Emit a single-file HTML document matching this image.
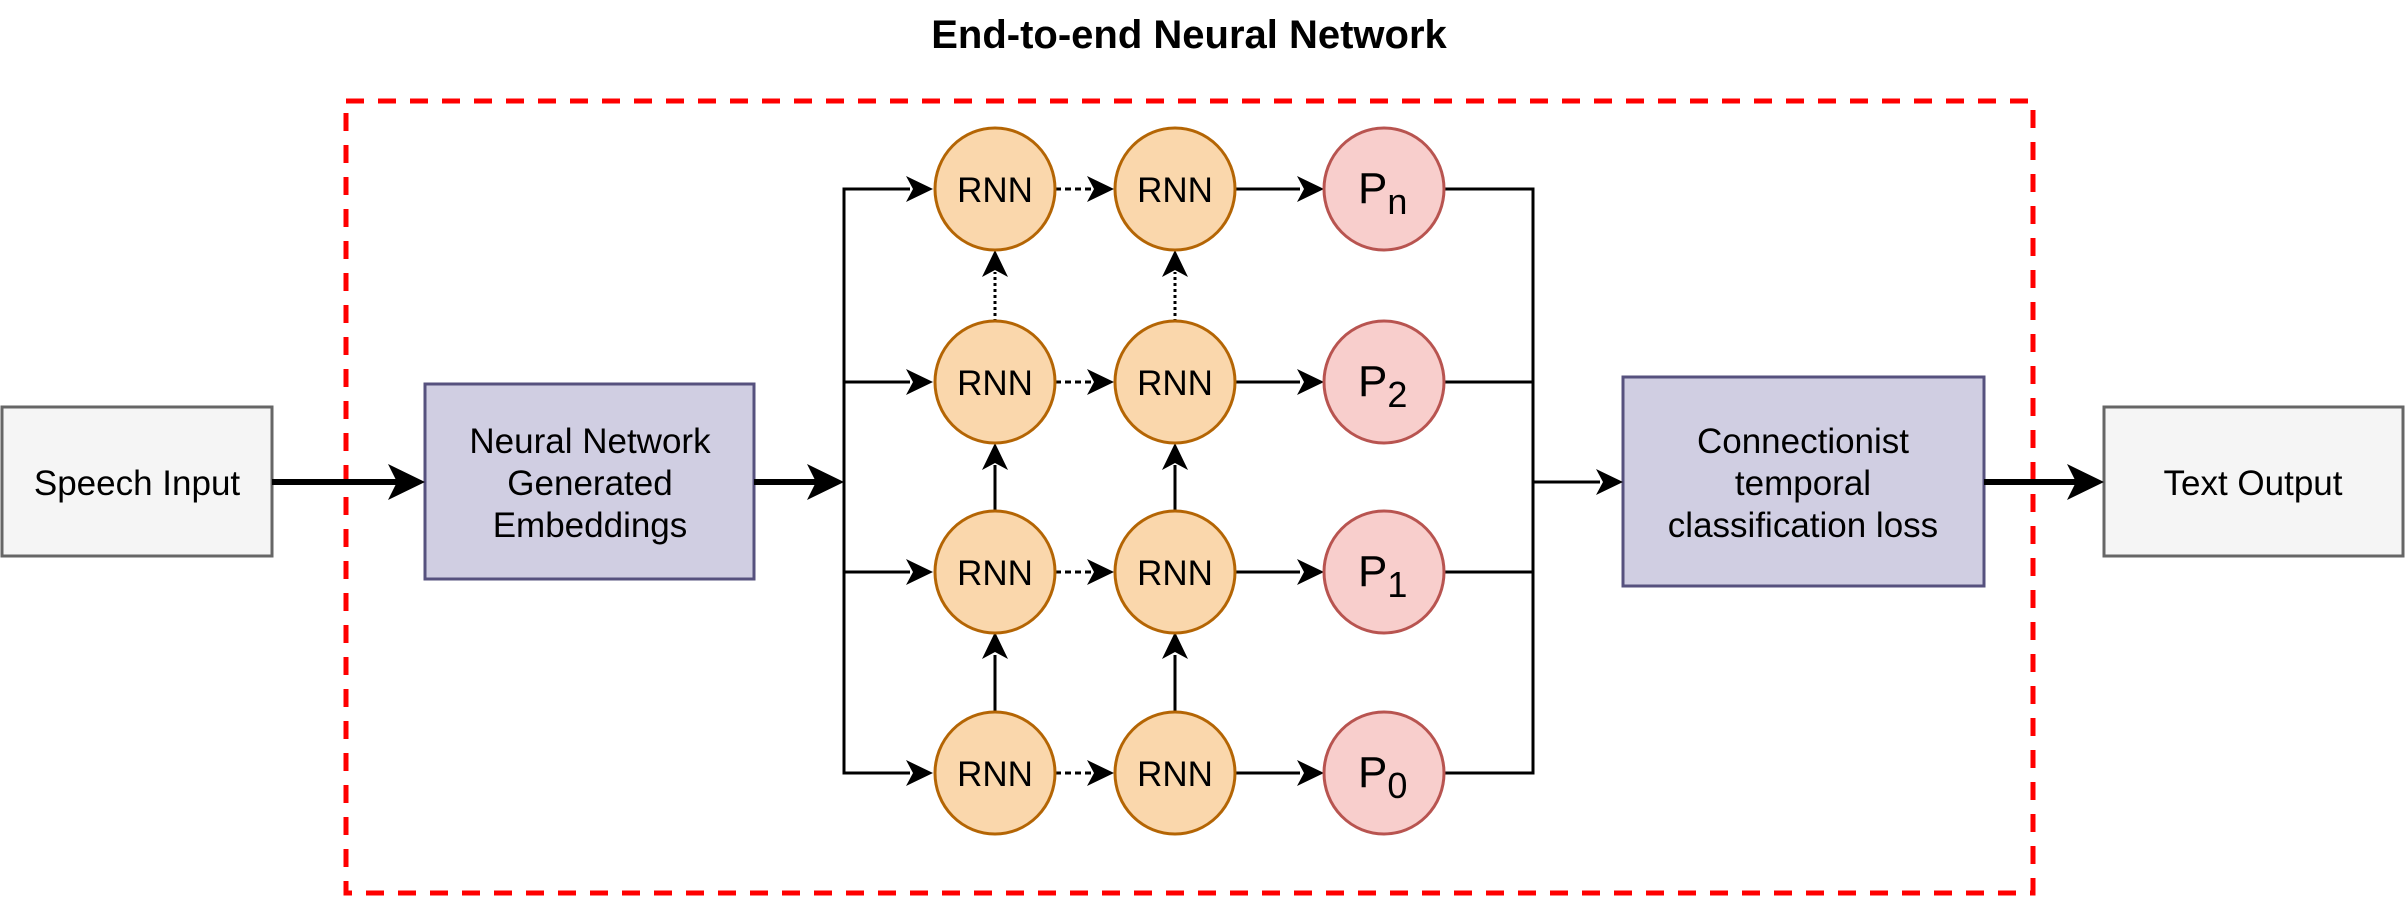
<!DOCTYPE html>
<html><head><meta charset="utf-8"><style>
html,body{margin:0;padding:0;background:#fff;}
svg{display:block;}
text{font-family:"Liberation Sans",Arial,sans-serif;fill:#000;}
</style></head><body>
<svg width="2406" height="900" viewBox="0 0 2406 900" xmlns="http://www.w3.org/2000/svg">
<text x="1189" y="48" font-size="40" font-weight="bold" text-anchor="middle">End-to-end Neural Network</text>
<rect x="346" y="101" width="1687" height="792" fill="none" stroke="#ff0000" stroke-width="5" stroke-dasharray="18,14"/>

<rect x="2" y="407" width="270" height="149" fill="#f5f5f5" stroke="#666" stroke-width="3"/>
<text x="137" y="495" font-size="35" text-anchor="middle" fill="#333">Speech Input</text>
<rect x="425" y="384" width="329" height="195" fill="#d0cee2" stroke="#56517e" stroke-width="3"/>
<text x="590" y="453" font-size="35" text-anchor="middle">Neural Network</text>
<text x="590" y="495" font-size="35" text-anchor="middle">Generated</text>
<text x="590" y="537" font-size="35" text-anchor="middle">Embeddings</text>
<rect x="1623" y="377" width="361" height="209" fill="#d0cee2" stroke="#56517e" stroke-width="3"/>
<text x="1803" y="453" font-size="35" text-anchor="middle">Connectionist</text>
<text x="1803" y="495" font-size="35" text-anchor="middle">temporal</text>
<text x="1803" y="537" font-size="35" text-anchor="middle">classification loss</text>
<rect x="2104" y="407" width="299" height="149" fill="#f5f5f5" stroke="#666" stroke-width="3"/>
<text x="2253" y="495" font-size="35" text-anchor="middle" fill="#333">Text Output</text>

<g stroke="#000" stroke-width="6" fill="none">
<line x1="272" y1="482" x2="400" y2="482"/>
<line x1="754" y1="482" x2="820" y2="482"/>
<line x1="1984" y1="482" x2="2080" y2="482"/>
</g>
<g fill="#000">
<path d="M425,482 L388,464 L397,482 L388,500 Z"/>
<path d="M844,482 L807,464 L816,482 L807,500 Z"/>
<path d="M2104,482 L2067,464 L2076,482 L2067,500 Z"/>
</g>

<g stroke="#000" stroke-width="3" fill="none">
<polyline points="910,189 844,189 844,773 910,773"/>
<line x1="844" y1="382" x2="910" y2="382"/>
<line x1="844" y1="572" x2="910" y2="572"/>
<polyline points="1444,189 1533,189 1533,773 1444,773"/>
<line x1="1444" y1="382" x2="1533" y2="382"/>
<line x1="1444" y1="572" x2="1533" y2="572"/>
<line x1="1533" y1="482" x2="1600" y2="482"/>
<line x1="1235" y1="189" x2="1300" y2="189"/>
<line x1="1235" y1="382" x2="1300" y2="382"/>
<line x1="1235" y1="572" x2="1300" y2="572"/>
<line x1="1235" y1="773" x2="1300" y2="773"/>
<line x1="995" y1="713" x2="995" y2="655"/>
<line x1="1175" y1="713" x2="1175" y2="655"/>
<line x1="995" y1="511" x2="995" y2="465"/>
<line x1="1175" y1="511" x2="1175" y2="465"/>
</g>
<g stroke="#000" stroke-width="3" fill="none" stroke-dasharray="6,4">
<line x1="1055" y1="189" x2="1095" y2="189"/>
<line x1="1055" y1="382" x2="1095" y2="382"/>
<line x1="1055" y1="572" x2="1095" y2="572"/>
<line x1="1055" y1="773" x2="1095" y2="773"/>
</g>
<g stroke="#000" stroke-width="3" fill="none" stroke-dasharray="3,3">
<line x1="995" y1="322" x2="995" y2="272"/>
<line x1="1175" y1="322" x2="1175" y2="272"/>
</g>
<g fill="#000">
<path d="M933,189 L906,176 L913,189 L906,202 Z"/>
<path d="M933,382 L906,369 L913,382 L906,395 Z"/>
<path d="M933,572 L906,559 L913,572 L906,585 Z"/>
<path d="M933,773 L906,760 L913,773 L906,786 Z"/>
<path d="M1114,189 L1087,176 L1094,189 L1087,202 Z"/>
<path d="M1114,382 L1087,369 L1094,382 L1087,395 Z"/>
<path d="M1114,572 L1087,559 L1094,572 L1087,585 Z"/>
<path d="M1114,773 L1087,760 L1094,773 L1087,786 Z"/>
<path d="M1324,189 L1297,176 L1304,189 L1297,202 Z"/>
<path d="M1324,382 L1297,369 L1304,382 L1297,395 Z"/>
<path d="M1324,572 L1297,559 L1304,572 L1297,585 Z"/>
<path d="M1324,773 L1297,760 L1304,773 L1297,786 Z"/>
<path d="M1623,482 L1596,469 L1603,482 L1596,495 Z"/>
<path d="M995,250 L982,277 L995,270 L1008,277 Z"/>
<path d="M1175,250 L1162,277 L1175,270 L1188,277 Z"/>
<path d="M995,443 L982,470 L995,463 L1008,470 Z"/>
<path d="M1175,443 L1162,470 L1175,463 L1188,470 Z"/>
<path d="M995,632 L982,659 L995,652 L1008,659 Z"/>
<path d="M1175,632 L1162,659 L1175,652 L1188,659 Z"/>
</g>

<g fill="#fad7ac" stroke="#b46504" stroke-width="3">
<ellipse cx="995" cy="189" rx="60" ry="61"/><ellipse cx="1175" cy="189" rx="60" ry="61"/>
<ellipse cx="995" cy="382" rx="60" ry="61"/><ellipse cx="1175" cy="382" rx="60" ry="61"/>
<ellipse cx="995" cy="572" rx="60" ry="61"/><ellipse cx="1175" cy="572" rx="60" ry="61"/>
<ellipse cx="995" cy="773" rx="60" ry="61"/><ellipse cx="1175" cy="773" rx="60" ry="61"/>
</g>
<g font-size="35" text-anchor="middle">
<text x="995" y="202">RNN</text><text x="1175" y="202">RNN</text>
<text x="995" y="395">RNN</text><text x="1175" y="395">RNN</text>
<text x="995" y="585">RNN</text><text x="1175" y="585">RNN</text>
<text x="995" y="786">RNN</text><text x="1175" y="786">RNN</text>
</g>
<g fill="#f8cecc" stroke="#b85450" stroke-width="3">
<ellipse cx="1384" cy="189" rx="60" ry="61"/>
<ellipse cx="1384" cy="382" rx="60" ry="61"/>
<ellipse cx="1384" cy="572" rx="60" ry="61"/>
<ellipse cx="1384" cy="773" rx="60" ry="61"/>
</g>
<g font-size="44">
<text x="1358" y="203">P<tspan font-size="36" dy="11">n</tspan></text>
<text x="1358" y="396">P<tspan font-size="36" dy="11">2</tspan></text>
<text x="1358" y="586">P<tspan font-size="36" dy="11">1</tspan></text>
<text x="1358" y="787">P<tspan font-size="36" dy="11">0</tspan></text>
</g>
</svg>
</body></html>
